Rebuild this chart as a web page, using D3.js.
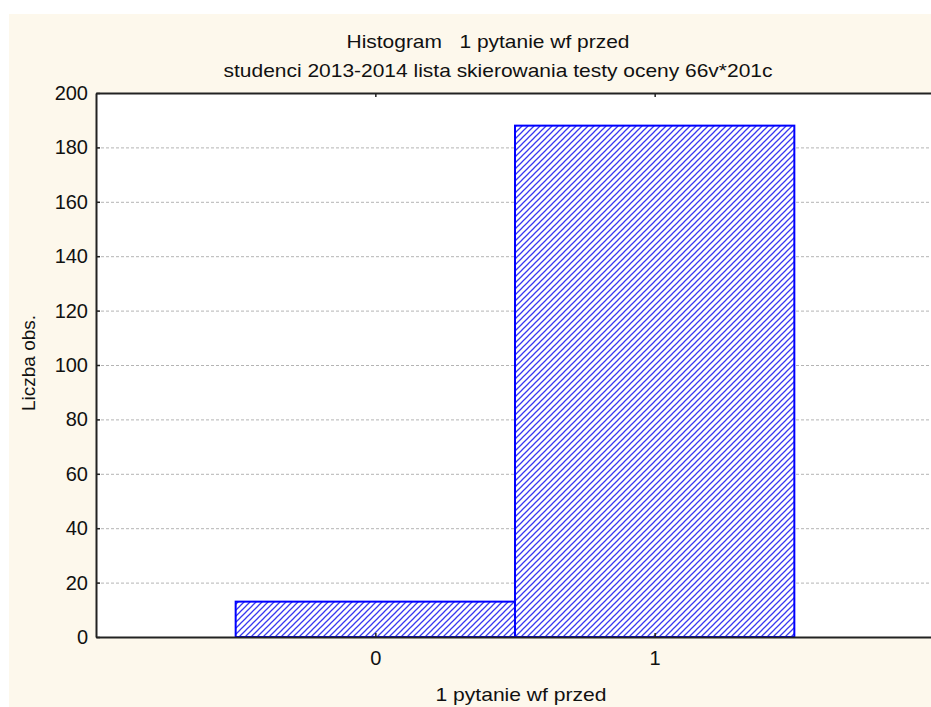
<!DOCTYPE html>
<html><head><meta charset="utf-8">
<script src="https://cdn.jsdelivr.net/npm/d3@7"></script>
<style>body{margin:0;background:#fff;}svg{display:block;}</style>
</head><body>
<script>
const categories = [0, 1];
const counts = [13, 188];
const yTicks = [0, 20, 40, 60, 80, 100, 120, 140, 160, 180, 200];
const titleText = "Histogram\u00a0\u00a0\u00a01 pytanie wf przed";
const subtitleText = "studenci 2013-2014 lista skierowania testy oceny 66v*201c";
const xLabel = "1 pytanie wf przed";
const yLabel = "Liczba obs.";

(function () {
const W = 931, H = 707;
const svg = d3.select("body").append("svg").attr("width", W).attr("height", H);
const font = "Liberation Sans, Arial, sans-serif";

svg.append("rect").attr("x", 9).attr("y", 14).attr("width", W - 9).attr("height", H - 14).attr("fill", "#fdf8ec");

const pL = 96, pR = 934, pT = 93, pB = 637;
const x = d3.scaleLinear().domain([-1, 2]).range([pL, pR]);
const y = d3.scaleLinear().domain([0, 200]).range([pB, pT]);

const defs = svg.append("defs");
const pat = defs.append("pattern").attr("id", "hatch").attr("patternUnits", "userSpaceOnUse")
  .attr("width", 6).attr("height", 6);
pat.append("rect").attr("width", 6).attr("height", 6).attr("fill", "#fff");
pat.append("path").attr("d", "M-1,7 L7,-1 M-4,4 L4,-4 M2,10 L10,2").attr("stroke", "#3838f0").attr("stroke-width", 1.25);

svg.append("rect").attr("x", pL).attr("y", pT).attr("width", pR - pL).attr("height", pB - pT).attr("fill", "#fff");

// gridlines
svg.append("g").selectAll("line").data(yTicks.filter(d => d > 0 && d < 200)).join("line")
  .attr("x1", pL).attr("x2", pR).attr("y1", d => y(d) + 0.5).attr("y2", d => y(d) + 0.5)
  .attr("stroke", "#b4b4b4").attr("stroke-width", 1).attr("stroke-dasharray", "3,2");

// bars
svg.append("g").selectAll("rect").data(categories).join("rect")
  .attr("x", (d) => x(d - 0.5)).attr("y", (d, i) => y(counts[i]))
  .attr("width", (d) => x(d + 0.5) - x(d - 0.5)).attr("height", (d, i) => y(0) - y(counts[i]))
  .attr("fill", "url(#hatch)").attr("stroke", "#0000ff").attr("stroke-width", 2);

// axes
const yAxis = d3.axisLeft(y).tickValues(yTicks).tickSizeInner(-4).tickSizeOuter(0).tickPadding(8);
const gy = svg.append("g").attr("transform", `translate(${pL},0)`).call(yAxis);
gy.select(".domain").attr("stroke", "#222").attr("stroke-width", 2);
gy.selectAll(".tick line").attr("stroke", "#222").attr("stroke-width", 1.5);
gy.selectAll(".tick text").attr("font-family", font).attr("font-size", 20).attr("fill", "#111");

const xAxis = d3.axisBottom(x).tickValues(categories).tickFormat(d3.format("d")).tickSizeInner(-4).tickSizeOuter(0).tickPadding(14);
const gx = svg.append("g").attr("transform", `translate(0,${pB})`).call(xAxis);
gx.select(".domain").attr("stroke", "#222").attr("stroke-width", 2);
gx.selectAll(".tick line").attr("stroke", "#222").attr("stroke-width", 1.5);
gx.selectAll(".tick text").attr("font-family", font).attr("font-size", 20).attr("fill", "#111");

const xTop = d3.axisTop(x).tickValues(categories).tickFormat("").tickSizeInner(-4).tickSizeOuter(0);
const gt = svg.append("g").attr("transform", `translate(0,${pT})`).call(xTop);
gt.select(".domain").attr("stroke", "#222").attr("stroke-width", 2);
gt.selectAll(".tick line").attr("stroke", "#222").attr("stroke-width", 1.5);

// titles
svg.append("text").attr("x", 488).attr("y", 48).attr("text-anchor", "middle")
  .attr("font-family", font).attr("font-size", 19).attr("fill", "#111")
  .attr("textLength", 283).attr("lengthAdjust", "spacingAndGlyphs").text(titleText);
svg.append("text").attr("x", 498).attr("y", 77).attr("text-anchor", "middle")
  .attr("font-family", font).attr("font-size", 19).attr("fill", "#111")
  .attr("textLength", 549).attr("lengthAdjust", "spacingAndGlyphs").text(subtitleText);
svg.append("text").attr("x", 521).attr("y", 701).attr("text-anchor", "middle")
  .attr("font-family", font).attr("font-size", 19).attr("fill", "#111")
  .attr("textLength", 171).attr("lengthAdjust", "spacingAndGlyphs").text(xLabel);
svg.append("text").attr("transform", "translate(35,363) rotate(-90)").attr("text-anchor", "middle")
  .attr("font-family", font).attr("font-size", 19).attr("fill", "#111").text(yLabel);
})();
</script>
</body></html>
